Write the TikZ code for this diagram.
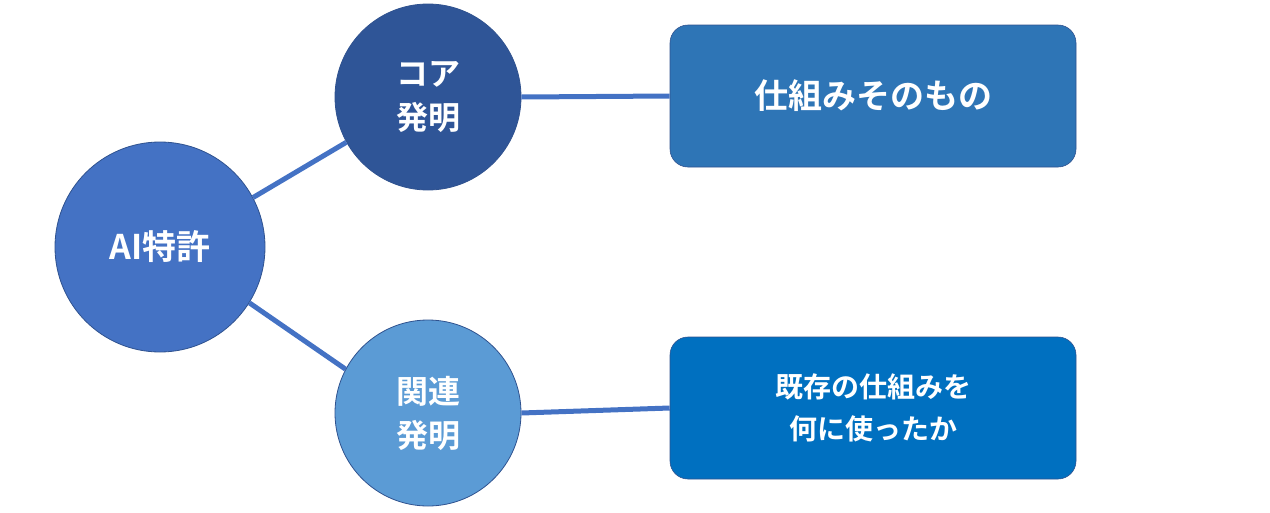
\documentclass[tikz,border=0pt]{standalone}
\usepackage{fontspec}
\newfontfamily\jp{Noto Sans CJK JP}[BoldFont={Noto Sans CJK JP Bold}]
\definecolor{cA}{HTML}{4472C4}
\definecolor{cB}{HTML}{2F5597}
\definecolor{cC}{HTML}{5B9BD5}
\definecolor{bA}{HTML}{2E75B6}
\definecolor{bB}{HTML}{0070C0}
\definecolor{edge}{HTML}{2F528F}
\begin{document}
\begin{tikzpicture}[x=1pt,y=-1pt,
  circ/.style={circle,draw=edge,line width=0.8pt,text=white,font=\jp\bfseries,align=center,inner sep=0pt},
  box/.style={rectangle,rounded corners=18pt,draw=edge,line width=0.6pt,text=white,font=\jp\bfseries,align=center,minimum width=406pt,minimum height=142pt},
  conn/.style={draw=cA,line width=5pt}]
\useasboundingbox (0,0) rectangle (1270,512);
\node[circ,fill=cA,minimum size=210pt,font=\jp\bfseries\fontsize{34}{40}\selectfont] (ai) at (160,247) {AI特許};
\node[circ,fill=cB,minimum size=186pt,font=\jp\bfseries\fontsize{32}{44}\selectfont] (core) at (428,97) {コア\\発明};
\node[circ,fill=cC,minimum size=186pt,font=\jp\bfseries\fontsize{32}{44}\selectfont] (rel) at (428,413) {関連\\発明};
\node[box,fill=bA,font=\jp\bfseries\fontsize{34}{40}\selectfont] (b1) at (873,96) {仕組みそのもの};
\node[box,fill=bB,font=\jp\bfseries\fontsize{28}{42}\selectfont] (b2) at (873,408) {既存の仕組みを\\何に使ったか};
\draw[conn] (ai.28) -- (core.209);
\draw[conn] (ai.-32) -- (rel.152);
\draw[conn] (core.east) -- (b1.west);
\draw[conn] (rel.east) -- (b2.west);
\end{tikzpicture}
\end{document}
